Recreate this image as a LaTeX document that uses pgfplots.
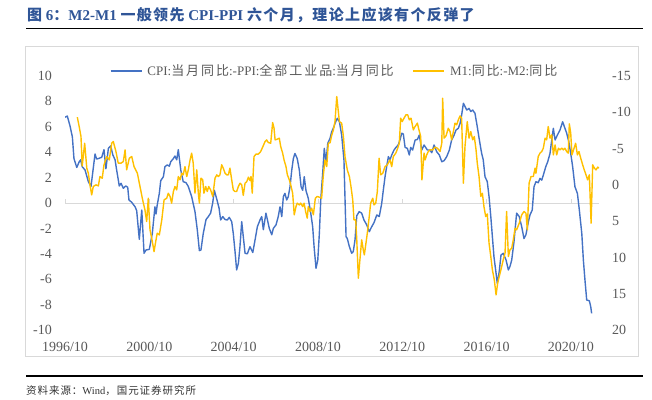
\documentclass[border=0pt]{standalone}
\usepackage{fontspec}
\setmainfont{Liberation Serif}
\newfontfamily\cjk{Noto Sans CJK SC}[LetterSpace=15]
\newfontfamily\cjkt{Noto Sans CJK SC}[LetterSpace=9]
\usepackage{pgfplots}
\usepackage{pgfplotstable}
\pgfplotsset{compat=1.18}
\definecolor{cblue}{RGB}{68,114,196}
\definecolor{cyel}{RGB}{255,192,0}
\definecolor{tgray}{RGB}{89,89,89}
\definecolor{ttl}{RGB}{47,85,151}
\definecolor{frm}{RGB}{217,217,217}

\pgfplotstableread{
m v
0.0 6.75
1.3 6.85
2.8 6.1
4.2 5.2
5.1 3.5
6.7 2.8
8.1 3.25
8.9 3.4
9.8 2.86
11.4 2.6
13.3 1.68
14.8 1.3
17.1 3.86
18.0 3.46
19.0 3.5
20.9 3.6
22.2 4.2
23.3 2.7
24.7 4.3
26.0 4.5
27.2 3.8
28.5 3.4
29.4 2.6
30.9 1.34
31.9 1.55
33.2 1.16
34.6 1.34
35.7 1.24
36.4 0.24
38.0 0.05
39.9 -0.3
40.8 -0.6
42.3 -2.86
43.7 -0.55
45.0 -3.96
46.1 -3.7
48.0 -3.65
49.7 -2.4
51.2 -0.3
51.8 -0.87
52.5 -0.16
53.7 0.76
54.5 1.76
56.0 2.07
56.9 2.86
58.2 3.0
59.4 2.9
60.2 3.25
61.7 3.5
62.6 3.7
63.6 3.4
64.5 4.2
65.9 2.6
67.3 1.68
68.9 1.6
70.2 1.3
72.1 0.5
74.0 -0.68
75.3 -2.1
76.5 -3.75
77.4 -3.7
78.7 -2.4
80.3 -1.3
81.6 -1.07
82.9 -0.8
84.1 0.02
85.0 1.0
86.4 0.3
87.7 -0.4
88.6 -1.34
89.8 -1.07
91.1 -1.3
92.4 -1.34
93.5 -1.13
94.9 -1.47
95.8 -2.4
96.8 -3.83
97.7 -5.27
98.7 -4.75
99.6 -3.44
100.6 -1.47
102.5 -3.96
103.8 -4.0
105.3 -3.44
106.9 -3.9
108.2 -2.9
109.5 -1.87
111.0 -1.34
112.0 -1.07
112.9 -2.1
114.4 -0.8
115.2 -1.3
116.3 -2.0
117.7 -2.5
118.6 -2.0
120.1 -1.73
121.4 -1.07
122.4 -0.3
123.4 -1.07
124.3 0.5
125.2 0.76
126.2 0.24
127.1 0.5
128.1 1.28
129.1 2.6
130.0 3.5
130.9 3.9
132.2 3.5
133.4 2.6
134.4 1.28
135.3 1.0
136.2 2.07
137.2 0.97
138.5 0.37
139.9 -0.8
141.0 -1.87
141.8 -3.44
142.9 -5.14
143.9 -4.5
144.8 -2.4
145.6 0.24
146.7 2.34
147.6 4.3
148.6 3.25
149.6 4.7
150.9 5.1
151.8 5.6
153.1 6.0
153.7 6.27
155.0 6.67
156.2 6.4
157.5 5.35
158.8 3.4
160.0 -2.65
160.7 -2.8
161.9 -3.44
163.2 -3.96
164.1 -3.83
165.1 -2.9
166.1 -1.0
167.5 -0.68
168.9 -0.8
170.2 -1.34
171.8 -1.73
173.2 -2.26
174.6 -1.87
175.9 -1.55
177.5 -0.94
178.9 -1.07
180.3 -0.03
181.2 1.0
182.2 2.07
183.1 2.86
184.1 3.65
185.0 3.4
186.0 3.78
187.3 4.17
188.4 4.38
189.7 4.57
190.7 4.96
191.7 5.5
192.6 5.43
193.6 4.38
194.9 4.3
196.0 3.78
196.8 4.38
197.9 4.17
199.3 4.96
200.6 5.0
201.7 5.35
203.1 4.17
204.4 4.57
206.3 4.17
207.8 4.17
208.8 3.96
210.1 4.57
211.6 4.04
213.1 3.78
214.5 3.25
215.8 3.33
217.3 3.65
218.8 4.17
220.1 4.96
221.5 5.35
222.6 5.75
223.9 5.88
224.9 6.27
225.8 6.93
226.8 7.85
227.7 7.6
228.7 7.32
230.0 7.45
231.0 7.2
232.1 7.32
233.4 7.06
234.7 6.0
235.9 4.96
237.2 3.9
238.1 3.4
239.1 2.07
240.4 1.68
241.4 0.5
242.4 -1.07
243.3 -2.65
244.2 -4.23
245.4 -5.54
246.1 -6.33
247.2 -5.4
248.2 -4.1
249.5 -3.96
251.1 -4.5
252.4 -5.27
253.3 -5.0
254.3 -4.5
255.6 -3.05
257.1 -0.8
258.6 -1.07
260.0 -1.87
261.3 -2.8
262.4 -2.5
263.8 -1.47
264.7 -0.94
266.0 -0.55
267.0 1.28
268.1 1.68
269.4 1.6
270.4 1.94
271.4 1.8
272.3 2.2
273.7 2.86
274.8 3.25
276.1 3.9
277.1 4.96
278.0 5.88
279.0 4.96
280.3 5.35
281.8 5.75
283.3 6.4
284.3 6.0
285.6 5.5
286.8 4.83
287.9 3.9
289.0 2.86
290.3 1.28
291.7 0.76
292.8 -0.55
294.2 -2.4
295.1 -4.5
296.0 -6.06
297.0 -7.64
298.5 -7.7
299.3 -8.17
299.8 -8.69
}\cpippi

\pgfplotstableread{
m r
7.0 -9.33
8.1 -8.0
9.1 -6.66
9.8 -2.6
11.2 -5.74
12.4 -2.3
13.3 -1.6
14.2 0
15.2 1.38
16.1 0.23
17.6 0
19.0 0.14
19.9 -1.15
21.2 -0.92
22.2 -2.76
23.7 -3.9
25.2 -3.44
26.6 -5.74
27.5 -5.97
29.0 -4.59
30.3 -2.99
31.9 -2.99
33.2 -3.21
34.2 -4.82
35.1 -2.07
36.6 -3.67
38.0 -3.9
39.3 -2.52
41.2 -1.6
42.7 0.23
44.2 2.07
45.5 3.44
46.5 5.05
47.4 1.84
48.4 6.2
49.7 7.8
50.7 9.2
51.8 7.6
52.5 6.66
53.7 6.9
55.1 4.82
56.4 2.07
57.9 1.84
58.8 1.15
59.8 1.6
60.7 2.52
61.7 0.92
62.6 0.23
63.6 0.69
64.5 -1.15
65.5 -0.69
66.4 -1.6
67.3 -1.38
68.3 -2.52
69.3 -1.15
70.2 -2.07
71.2 -3.44
72.1 -4.37
73.0 -2.99
74.0 1.15
75.0 -2.07
75.9 1.15
76.5 2.52
77.4 -0.92
78.4 -0.69
79.1 1.15
80.1 0.23
81.0 0.92
81.8 0.23
82.9 0.69
84.1 1.6
85.4 -0.92
86.4 -1.38
87.3 -1.15
88.2 -1.38
89.2 -2.76
90.1 -2.3
91.1 -1.6
92.1 -1.38
93.0 -1.38
93.9 -2.3
94.9 -0.69
95.8 0.69
96.8 0.92
97.7 0.92
98.7 0.23
99.6 -0.23
100.6 0
101.5 1.45
102.5 -0.23
103.5 -0.46
104.4 -1.06
105.3 -0.6
105.9 -1.15
106.6 1.15
107.6 -3.9
108.7 -4.23
110.0 -4.23
111.4 -4.59
112.5 -5.19
113.9 -5.97
114.8 -6.2
115.7 -5.83
117.1 -5.74
118.2 -8.58
119.0 -7.8
119.6 -6.2
120.9 -6.3
122.0 -6.43
122.8 -5.28
123.9 -4.37
124.7 -3.44
125.8 -2.52
126.6 -1.38
127.7 -0.69
128.5 0
129.6 1.15
130.5 4.13
131.5 2.99
132.2 2.52
133.4 2.76
134.2 2.52
135.3 2.99
136.1 2.52
137.0 3.67
137.9 4.59
138.5 2.99
139.5 3.67
140.4 3.21
141.4 4.13
142.5 1.84
143.6 1.6
144.8 1.7
146.1 1.84
147.0 -1.15
148.0 -3.44
149.0 -2.52
149.9 -5.74
150.9 -5.8
151.8 -6.8
152.8 -7.58
153.7 -8.72
154.7 -12.17
155.6 -10.1
156.2 -8.72
157.5 -8.5
158.5 -6.66
159.4 -3.9
160.7 -2.07
161.9 -1.15
162.8 0.23
163.8 2.07
164.5 4.82
165.5 4.82
166.1 7.58
167.0 12.86
167.9 10.3
168.9 7.58
169.8 8.96
170.4 9.65
171.2 8.27
172.1 6.66
173.2 4.37
174.0 2.52
175.2 1.84
175.9 2.76
176.9 2.52
177.8 0.92
178.8 -3.67
179.7 -1.38
180.9 -1.6
182.2 -2.52
183.5 -2.76
185.0 -3.44
186.0 -2.52
186.9 -3.9
188.3 -4.37
189.4 -5.05
190.3 -5.74
191.1 -9.19
192.0 -8.72
193.0 -9.19
194.1 -9.65
195.1 -9.65
196.0 -8.96
197.0 -9.19
198.3 -7.58
199.3 -8.04
200.6 -8.5
201.5 -7.58
202.5 -6.66
203.2 -0.69
204.4 -4.37
205.0 -3.44
205.9 -4.13
206.8 -4.59
207.8 -4.82
209.3 -4.82
210.6 -5.19
212.0 -5.05
213.5 -4.59
214.5 -5.74
215.0 -11.94
215.8 -6.43
216.9 -6.75
218.2 -7.8
219.2 -7.35
220.1 -6.2
221.1 -7.35
222.0 -8.5
223.0 -8.27
223.9 -8.96
224.9 -9.5
225.8 -9.19
226.8 -0.23
227.7 -5.28
229.0 -8.72
230.0 -6.43
231.0 -7.35
232.1 -6.2
233.0 -6.66
234.0 -4.82
234.7 -2.99
235.7 -1.15
236.7 1.6
237.6 1.15
238.5 2.99
239.5 4.37
240.4 4.0
241.4 8.04
242.4 9.88
243.3 11.71
244.4 13.09
245.4 15.16
246.3 13.55
247.2 12.63
248.6 11.26
249.5 10.3
250.5 9.42
251.4 3.67
252.4 9.88
253.3 8.96
254.3 8.73
255.2 7.58
256.2 5.97
257.1 6.2
258.6 5.28
260.0 4.13
261.3 3.67
262.4 3.9
263.2 6.2
264.2 -0.23
265.3 -1.15
266.6 -1.15
267.6 -2.3
268.1 -1.6
269.4 -3.9
270.4 -4.37
271.4 -4.59
272.3 -5.05
273.3 -6.43
274.2 -6.2
275.1 -8.04
276.1 -6.43
277.1 -6.89
278.0 -4.13
279.0 -5.5
279.9 -4.13
280.9 -5.05
281.8 -4.82
282.8 -5.05
283.7 -4.82
284.6 -5.05
285.6 -4.59
286.5 -4.37
287.1 -8.4
287.9 -7.12
288.6 -4.13
289.8 -5.05
290.7 -5.74
291.7 -4.13
292.6 -4.59
293.6 -3.67
294.7 -2.76
295.6 -2.07
296.6 -1.38
297.5 -0.69
298.5 -1.38
299.5 5.28
300.4 -2.76
301.4 -2.3
302.3 -2.07
303.3 -2.44
304.1 -2.3
}\mmgap

\begin{document}
\begin{tikzpicture}
\path[use as bounding box] (0pt,0pt) rectangle (652pt,399pt);
\draw[frm, line width=0.8pt] (25.5pt,43pt) rectangle (638pt,352.3pt);
\node[anchor=west, inner sep=0pt, text=ttl, font=\fontsize{15}{15}\selectfont\bfseries] at (27pt,384pt)
  {{\cjkt 图}~6{\cjkt ：}M2-M1 {\cjkt 一般领先} CPI-PPI {\cjkt 六个月，理论上应该有个反弹了}};
\draw[line width=1.3pt] (26pt,370.5pt) -- (643pt,370.5pt);
\draw[line width=1.3pt] (26pt,23pt) -- (643pt,23pt);
\node[anchor=west, inner sep=0pt, text=black!80, font=\fontsize{10.5}{10.5}\selectfont] at (26pt,8.3pt)
  {{\cjkt 资料来源：}Wind{\cjkt ，国元证券研究所}};

\begin{axis}[
  at={(65pt,69pt)}, anchor=south west, scale only axis,
  width=534pt, height=254pt,
  xmin=0, xmax=304, ymin=-10, ymax=10,
  axis y line*=left, axis x line*=bottom,
  axis line style={draw=none}, tick style={draw=none},
  xtick={0,48,96,144,192,240,288},
  xticklabels={1996/10,2000/10,2004/10,2008/10,2012/10,2016/10,2020/10},
  ytick={-10,-8,-6,-4,-2,0,2,4,6,8,10},
  /pgf/number format/assume math mode=true,
  tick label style={font=\fontsize{14}{14}\selectfont, text=tgray},
  yticklabel style={anchor=east, inner sep=0pt, xshift=-13pt},
  xticklabel style={anchor=base, inner sep=0pt, yshift=-21.5pt},
]
\draw[frm, line width=0.8pt] (axis cs:0,0) -- (axis cs:304,0);
\pgfplotsinvokeforeach{0,48,96,144,192,240,288}{
  \draw[frm, line width=0.8pt] (axis cs:#1,0) -- ++(0pt,4pt);
}
\addplot[cblue, line width=1.4pt, line join=round, mark=none] table[x=m, y=v] {\cpippi};
\end{axis}

\begin{axis}[
  at={(65pt,69pt)}, anchor=south west, scale only axis,
  width=534pt, height=254pt,
  xmin=0, xmax=304, ymin=-15, ymax=20, y dir=reverse,
  axis y line*=right, axis x line=none,
  axis line style={draw=none}, tick style={draw=none},
  ytick={-15,-10,-5,0,5,10,15,20},
  /pgf/number format/assume math mode=true,
  tick label style={font=\fontsize{14}{14}\selectfont, text=tgray},
  yticklabel style={anchor=west, inner sep=0pt, xshift=13pt},
  legend columns=2,
  legend image code/.code={\draw[#1] (0pt,0pt) -- (31pt,0pt);},
  legend style={draw=none, fill=none, inner sep=0pt, outer sep=0pt,
    at={(0.0843,1.0197)}, anchor=west,
    font=\fontsize{13}{13}\selectfont, text=tgray,
    nodes={inner sep=0pt},
    /tikz/every odd column/.append style={column sep=5pt},
    /tikz/every even column/.append style={column sep=19pt}},
]
\addlegendimage{cblue, line width=1.4pt}
\addlegendentry{CPI:{\cjk 当月同比}:-PPI:{\cjk 全部工业品}:{\cjk 当月同比}}
\addplot[cyel, line width=1.4pt, line join=round, mark=none] table[x=m, y=r] {\mmgap};
\addlegendentry{M1:{\cjk 同比}:-M2:{\cjk 同比}}
\end{axis}
\end{tikzpicture}
\end{document}
